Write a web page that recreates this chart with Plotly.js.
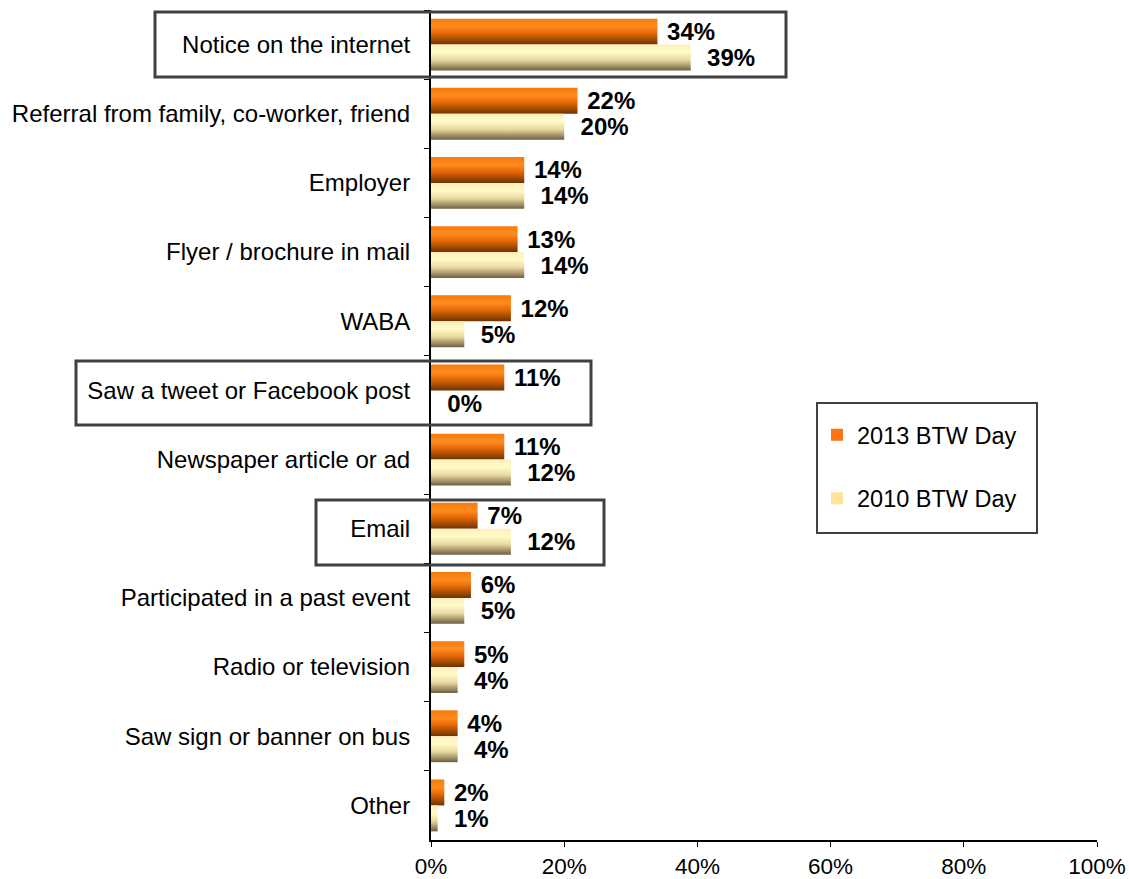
<!DOCTYPE html>
<html>
<head>
<meta charset="utf-8">
<script src="https://cdn.plot.ly/plotly-3.0.1.min.js"></script>
<style>html,body{margin:0;padding:0;background:#fff;}#chart{width:1129px;height:879px;}</style>
</head>
<body>
<div id="chart"></div>
<script>
var categories = [
  "Notice on the internet",
  "Referral from family, co-worker, friend",
  "Employer",
  "Flyer / brochure in mail",
  "WABA",
  "Saw a tweet or Facebook post",
  "Newspaper article or ad",
  "Email",
  "Participated in a past event",
  "Radio or television",
  "Saw sign or banner on bus",
  "Other"
];
var values2013 = [34, 22, 14, 13, 12, 11, 11, 7, 6, 5, 4, 2];
var values2010 = [39, 20, 14, 14, 5, 0, 12, 12, 5, 4, 4, 1];
var seriesNames = ["2013 BTW Day", "2010 BTW Day"];
var xTicks = [0, 20, 40, 60, 80, 100];
var xTickLabels = ["0%", "20%", "40%", "60%", "80%", "100%"];

var FONT = "'Liberation Sans', Arial, sans-serif";

function labels(vals, pad) {
  return vals.map(function (v) { return pad + v + "%"; });
}

var traces = [
  {
    type: "bar", orientation: "h", name: seriesNames[0],
    y: categories, x: values2013,
    marker: { color: "#FF7410", line: { width: 0 } },
    text: labels(values2013, "\u00a0"), textposition: "outside",
    textfont: { family: FONT, size: 24, color: "#000", weight: "bold" },
    constraintext: "none", cliponaxis: false,
    legendgroup: "a", hoverinfo: "none"
  },
  {
    type: "bar", orientation: "h", name: seriesNames[1],
    y: categories, x: values2010,
    marker: { color: "#FFE39A", line: { width: 0 } },
    text: labels(values2010, "\u00a0\u00a0"), textposition: "outside",
    textfont: { family: FONT, size: 24, color: "#000", weight: "bold" },
    constraintext: "none", cliponaxis: false,
    legendgroup: "b", hoverinfo: "none"
  }
];

var L = 431, R = 1097, T = 10, B = 840;
function px(x) { return (x - L) / (R - L); }
function py(y) { return (B - y) / (B - T); }
function box(x0, y0, x1, y1, w) {
  return { type: "rect", xref: "paper", yref: "paper",
    x0: px(x0), x1: px(x1), y0: py(y1), y1: py(y0),
    line: { color: "#404040", width: w }, fillcolor: "rgba(0,0,0,0)", layer: "above" };
}

var layout = {
  width: 1129, height: 879,
  margin: { l: L, r: 1129 - R, t: T, b: 879 - B, pad: 0 },
  paper_bgcolor: "#fff", plot_bgcolor: "#fff",
  barmode: "group", bargap: 0.25, bargroupgap: 0,
  font: { family: FONT, size: 24, color: "#000" },
  showlegend: true,
  legend: {
    x: px(817), y: py(413), xanchor: "left", yanchor: "top",
    borderwidth: 0, bgcolor: "rgba(0,0,0,0)",
    font: { family: FONT, size: 23.5, color: "#000" },
    traceorder: "grouped", tracegroupgap: 30,
    itemwidth: 30
  },
  xaxis: {
    range: [0, 100], tickvals: xTicks, ticktext: xTickLabels,
    showgrid: false, zeroline: false,
    showline: true, linecolor: "#000", linewidth: 2,
    ticks: "outside", ticklen: 5, tickcolor: "#000", tickwidth: 1,
    tickfont: { family: FONT, size: 22.5, color: "#000" },
    fixedrange: true
  },
  yaxis: {
    type: "category", autorange: "reversed",
    showgrid: false, zeroline: false,
    showline: true, linecolor: "#000", linewidth: 2,
    ticks: "outside", ticklen: 5, tickcolor: "#000", tickwidth: 1,
    tickson: "boundaries",
    ticklabelstandoff: 14,
    tickfont: { family: FONT, size: 24, color: "#000" },
    fixedrange: true
  },
  shapes: [
    box(155, 12, 786, 77, 3),
    box(76, 361, 591, 425, 3),
    box(316, 500, 604, 565, 3),
    box(817, 403, 1037, 533, 2)
  ]
};

Plotly.newPlot("chart", traces, layout, { staticPlot: true }).then(function () {
  var svg = document.querySelector("#chart svg.main-svg");
  var ns = "http://www.w3.org/2000/svg";
  var defs = svg.querySelector("defs") || svg.insertBefore(document.createElementNS(ns, "defs"), svg.firstChild);
  function grad(id, stops) {
    var g = document.createElementNS(ns, "linearGradient");
    g.setAttribute("id", id);
    g.setAttribute("x1", "0"); g.setAttribute("y1", "0");
    g.setAttribute("x2", "0"); g.setAttribute("y2", "1");
    stops.forEach(function (s) {
      var st = document.createElementNS(ns, "stop");
      st.setAttribute("offset", s[0]);
      st.setAttribute("stop-color", s[1]);
      g.appendChild(st);
    });
    defs.appendChild(g);
  }
  grad("g2013", [["0", "#F57A0C"], ["0.3", "#FF8C1E"], ["0.55", "#E86A08"], ["1", "#6E3300"]]);
  grad("g2010", [["0", "#FFEFC0"], ["0.3", "#FFFBC6"], ["0.6", "#E8D8A0"], ["1", "#6E5F40"]]);
  var tr = document.querySelectorAll("#chart .barlayer .trace");
  ["g2013", "g2010"].forEach(function (id, i) {
    if (!tr[i]) return;
    tr[i].querySelectorAll("path").forEach(function (p) { p.style.fill = "url(#" + id + ")"; });
  });
});
</script>
</body>
</html>
